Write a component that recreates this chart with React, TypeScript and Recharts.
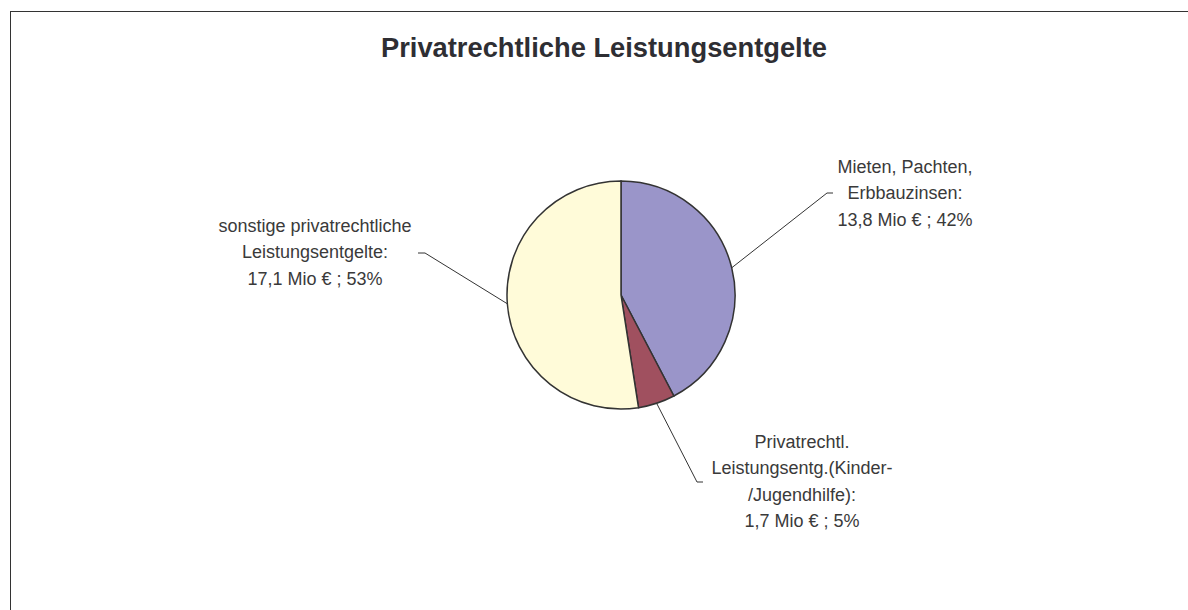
import React from 'react';
import { PieChart, Pie, Cell } from 'recharts';

const CATEGORIES = [
  'Mieten, Pachten, Erbbauzinsen',
  'Privatrechtl. Leistungsentg.(Kinder-/Jugendhilfe)',
  'sonstige privatrechtliche Leistungsentgelte',
];
const LABEL_LINES = [
  ['Mieten, Pachten,', 'Erbbauzinsen:'],
  ['Privatrechtl.', 'Leistungsentg.(Kinder-', '/Jugendhilfe):'],
  ['sonstige privatrechtliche', 'Leistungsentgelte:'],
];
const AMOUNTS = [13.8, 1.7, 17.1]; // Mio €
const SHARES = [42, 5, 53]; // % as printed
const COLORS = ['#9a95c9', '#a0505f', '#fffbd9'];

const pieData = CATEGORIES.map((name, i) => ({ name, value: AMOUNTS[i] }));

// where each label sits, relative to the pie centre (Excel dragged them by hand)
const LABEL_LAYOUT = [
  { ex: 206, ey: -102, hx: 212, tx: 284, ty: -122 },
  { ex: 76, ey: 187, hx: 82, tx: 181, ty: 153 },
  { ex: -196, ey: -42, hx: -203, tx: -306, ty: -63 },
];

const FONT = '"Liberation Sans", Arial, sans-serif';
const LINE_H = 26.4;

const renderLabel = (props: any) => {
  const { cx, cy, midAngle, outerRadius, index } = props;
  const rad = Math.PI / 180;
  const sx = cx + outerRadius * Math.cos(-midAngle * rad);
  const sy = cy + outerRadius * Math.sin(-midAngle * rad);
  const l = LABEL_LAYOUT[index];
  const lines = [
    ...LABEL_LINES[index],
    `${AMOUNTS[index].toFixed(1).replace('.', ',')} Mio € ; ${SHARES[index]}%`,
  ];
  return (
    <g key={`lbl-${index}`}>
      <polyline
        points={`${sx},${sy} ${cx + l.ex},${cy + l.ey} ${cx + l.hx},${cy + l.ey}`}
        fill="none"
        stroke="#333"
        strokeWidth={1}
      />
      <text x={cx + l.tx} y={cy + l.ty} textAnchor="middle" fontFamily={FONT} fontSize={18} fill="#3a3a3a">
        {lines.map((t, j) => (
          <tspan key={j} x={cx + l.tx} dy={j === 0 ? 0 : LINE_H}>{t}</tspan>
        ))}
      </text>
    </g>
  );
};

const App: React.FC = () => {
  return (
    <div style={{ position: 'fixed', left: 0, top: 0, width: 1188, height: 610, overflow: 'hidden', background: '#fff' }}>
      <div style={{ position: 'absolute', left: 10, top: 11, width: 1300, height: 800, border: '1px solid #333' }} />
      <svg width={1188} height={80} style={{ position: 'absolute', left: 0, top: 0 }}>
        <text x={604} y={57} textAnchor="middle" fontFamily={FONT} fontSize={27.3} fontWeight="bold" fill="#2e2e33">
          Privatrechtliche Leistungsentgelte
        </text>
      </svg>
      <div style={{ position: 'absolute', left: 0, top: 0 }}>
        <PieChart width={1188} height={610}>
          <Pie
            data={pieData}
            dataKey="value"
            nameKey="name"
            cx={616}
            cy={290}
            outerRadius={114}
            startAngle={90}
            endAngle={-270}
            stroke="#333"
            strokeWidth={1.5}
            label={renderLabel}
            labelLine={false}
            isAnimationActive={false}
          >
            {pieData.map((entry, index) => (
              <Cell key={`cell-${index}`} fill={COLORS[index]} />
            ))}
          </Pie>
        </PieChart>
      </div>
    </div>
  );
};

export default App;
